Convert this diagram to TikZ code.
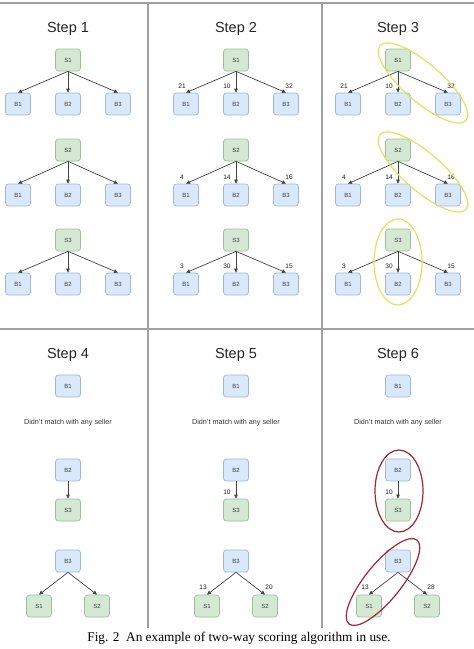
\documentclass[tikz,border=0pt]{standalone}
\usepackage{fontspec}
\setmainfont{Liberation Sans}
\newfontfamily\capfont{Liberation Serif}
\usetikzlibrary{arrows.meta}
\definecolor{bfill}{HTML}{DAE8FC}
\definecolor{bdraw}{HTML}{9DB8DC}
\definecolor{gfill}{HTML}{D5E8D4}
\definecolor{gdraw}{HTML}{99C196}
\definecolor{frame}{HTML}{A0A0A0}
\definecolor{arrc}{HTML}{444444}
\definecolor{yel}{HTML}{E2E25C}
\definecolor{redc}{HTML}{A3262E}
\tikzset{
  box/.style={rounded corners=3pt, minimum width=25pt, minimum height=22pt, inner sep=0pt, font=\fontsize{6}{7}\selectfont, text=black!75, line width=0.7pt},
  bnode/.style={box, fill=bfill, draw=bdraw},
  snode/.style={box, fill=gfill, draw=gdraw},
  steptitle/.style={font=\fontsize{14.5}{17}\selectfont, text=black!85},
  arr/.style={draw=arrc, line width=0.7pt, -{Triangle[length=4pt,width=3.6pt]}},
  elab/.style={font=\fontsize{6.5}{7}\selectfont, inner sep=0pt, text=black!90},
  framel/.style={draw=frame, line width=1.2pt},
  note/.style={font=\fontsize{7.2}{8}\selectfont, text=black!80},
  yring/.style={draw=yel, line width=1.2pt},
  rring/.style={draw=redc, line width=1.2pt}
}
\begin{document}
\begin{tikzpicture}[x=1pt,y=-1pt]
\useasboundingbox (0,0) rectangle (474,649);
% frame
\draw[framel] (0,3) -- (474,3);
\draw[framel] (0,329) -- (474,329);
\draw[framel] (148,3) -- (148,628);
\draw[framel] (322,3) -- (322,628);
% top panels
\foreach \p/\c in {1/68,2/236,3/398}{
  \node[steptitle] (t\p) at (\c,29) {Step \p};
  \foreach \r/\sy/\by in {1/60/104,2/150/195,3/240/284}{
    \node[snode] (s\p\r) at (\c,\sy) {S\r};
    \node[bnode] (b\p\r1) at (\c-50,\by) {B1};
    \node[bnode] (b\p\r2) at (\c,\by) {B2};
    \node[bnode] (b\p\r3) at (\c+50,\by) {B3};
    \draw[arr] (s\p\r.south) -- (b\p\r1.north);
    \draw[arr] (s\p\r.south) -- (b\p\r2.north);
    \draw[arr] (s\p\r.south) -- (b\p\r3.north);
  }
}
% score labels step 2 and 3
\foreach \p in {2,3}{
  \foreach \r/\va/\vb/\vc in {1/21/10/32,2/4/14/16,3/3/30/15}{
    \node[elab] (la\p\r) at ([xshift=-4pt,yshift=6pt]b\p\r1.north) {\va};
    \node[elab] (lb\p\r) at ([xshift=-9pt,yshift=6pt]b\p\r2.north) {\vb};
    \node[elab] (lc\p\r) at ([xshift=3pt,yshift=6pt]b\p\r3.north) {\vc};
  }
}
% yellow rings
\draw[yring, rotate around={-41:(423,83)}] (423,83) ellipse [x radius=57, y radius=19];
\draw[yring, rotate around={-41:(423,172)}] (423,172) ellipse [x radius=57, y radius=19];
\draw[yring] (398,262) ellipse [x radius=24, y radius=43];
% bottom panels
\foreach \p/\c in {4/68,5/236,6/398}{
  \node[steptitle] (t\p) at (\c,355) {Step \p};
  \node[bnode] (c\p1) at (\c,386) {B1};
  \node[note] (n\p) at (\c,423) {Didn't match with any seller};
  \node[bnode] (c\p2) at (\c,470) {B2};
  \node[snode] (d\p3) at (\c,510) {S3};
  \node[bnode] (c\p3) at (\c,561) {B3};
  \node[snode] (d\p1) at (\c-29,606) {S1};
  \node[snode] (d\p2) at (\c+29,606) {S2};
  \draw[arr] (c\p2.south) -- (d\p3.north);
  \draw[arr] (c\p3.south) -- (d\p1.north);
  \draw[arr] (c\p3.south) -- (d\p2.north);
}
\foreach \p/\v in {5/20,6/28}{
  \node[elab] (m\p) at ([xshift=-9pt,yshift=6pt]d\p3.north) {10};
  \node[elab] (k\p) at ([xshift=-4pt,yshift=7pt]d\p1.north) {13};
  \node[elab] (q\p) at ([xshift=4pt,yshift=7pt]d\p2.north) {\v};
}
% red rings
\draw[rring] (399,491) ellipse [x radius=24, y radius=41];
\draw[rring, rotate around={51:(383,582)}] (383,582) ellipse [x radius=54, y radius=18];
% caption
\node[font=\capfont\fontsize{13.3}{15}\selectfont] (cap) at (239,638) {Fig. 2\enspace An example of two-way scoring algorithm in use.};
\end{tikzpicture}
\end{document}
